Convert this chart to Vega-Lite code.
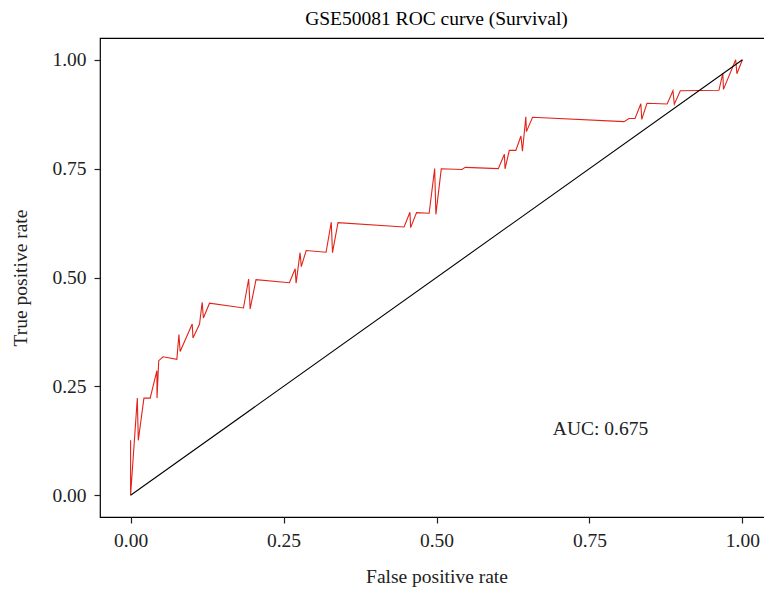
{
  "$schema": "https://vega.github.io/schema/vega-lite/v6.json",
  "autosize": "none",
  "padding": {"left": 100, "top": 38, "right": 0, "bottom": 76},
  "width": 673,
  "height": 479,
  "background": "white",
  "title": {"text": "GSE50081 ROC curve (Survival)", "font": "Liberation Serif", "fontSize": 19.5, "fontWeight": "normal", "color": "black", "anchor": "middle", "offset": 9},
  "config": {
    "view": {"stroke": "black", "strokeWidth": 1.2},
    "axis": {"labelFont": "Liberation Serif", "titleFont": "Liberation Serif", "labelFontSize": 19.5, "titleFontSize": 19.5, "titleFontWeight": "normal", "labelColor": "#222", "titleColor": "#222", "tickColor": "#222", "grid": false, "domain": false, "tickSize": 6, "tickWidth": 1.2}
  },
  "layer": [
    {
      "data": {"values": [
        {"i": 1, "fpr": 0, "tpr": 0.126},
        {"i": 2, "fpr": 0, "tpr": 0},
        {"i": 3, "fpr": 0.011, "tpr": 0.223},
        {"i": 4, "fpr": 0.0126, "tpr": 0.126},
        {"i": 5, "fpr": 0.0218, "tpr": 0.223},
        {"i": 6, "fpr": 0.032, "tpr": 0.223},
        {"i": 7, "fpr": 0.043, "tpr": 0.286},
        {"i": 8, "fpr": 0.0432, "tpr": 0.223},
        {"i": 9, "fpr": 0.046, "tpr": 0.309},
        {"i": 10, "fpr": 0.053, "tpr": 0.318},
        {"i": 11, "fpr": 0.0756, "tpr": 0.312},
        {"i": 12, "fpr": 0.079, "tpr": 0.369},
        {"i": 13, "fpr": 0.081, "tpr": 0.33},
        {"i": 14, "fpr": 0.1007, "tpr": 0.393},
        {"i": 15, "fpr": 0.102, "tpr": 0.361},
        {"i": 16, "fpr": 0.1127, "tpr": 0.393},
        {"i": 17, "fpr": 0.117, "tpr": 0.443},
        {"i": 18, "fpr": 0.119, "tpr": 0.407},
        {"i": 19, "fpr": 0.129, "tpr": 0.441},
        {"i": 20, "fpr": 0.1845, "tpr": 0.43},
        {"i": 21, "fpr": 0.193, "tpr": 0.4965},
        {"i": 22, "fpr": 0.1954, "tpr": 0.428},
        {"i": 23, "fpr": 0.205, "tpr": 0.495},
        {"i": 24, "fpr": 0.2596, "tpr": 0.488},
        {"i": 25, "fpr": 0.269, "tpr": 0.52},
        {"i": 26, "fpr": 0.2705, "tpr": 0.487},
        {"i": 27, "fpr": 0.277, "tpr": 0.557},
        {"i": 28, "fpr": 0.279, "tpr": 0.525},
        {"i": 29, "fpr": 0.287, "tpr": 0.562},
        {"i": 30, "fpr": 0.3195, "tpr": 0.558},
        {"i": 31, "fpr": 0.328, "tpr": 0.627},
        {"i": 32, "fpr": 0.33, "tpr": 0.557},
        {"i": 33, "fpr": 0.339, "tpr": 0.626},
        {"i": 34, "fpr": 0.447, "tpr": 0.616},
        {"i": 35, "fpr": 0.4566, "tpr": 0.65},
        {"i": 36, "fpr": 0.4577, "tpr": 0.6145},
        {"i": 37, "fpr": 0.4674, "tpr": 0.649},
        {"i": 38, "fpr": 0.488, "tpr": 0.6475},
        {"i": 39, "fpr": 0.497, "tpr": 0.75},
        {"i": 40, "fpr": 0.499, "tpr": 0.645},
        {"i": 41, "fpr": 0.5078, "tpr": 0.7496},
        {"i": 42, "fpr": 0.5415, "tpr": 0.748},
        {"i": 43, "fpr": 0.547, "tpr": 0.753},
        {"i": 44, "fpr": 0.601, "tpr": 0.75},
        {"i": 45, "fpr": 0.611, "tpr": 0.783},
        {"i": 46, "fpr": 0.612, "tpr": 0.7496},
        {"i": 47, "fpr": 0.619, "tpr": 0.792},
        {"i": 48, "fpr": 0.6297, "tpr": 0.792},
        {"i": 49, "fpr": 0.638, "tpr": 0.825},
        {"i": 50, "fpr": 0.6405, "tpr": 0.79},
        {"i": 51, "fpr": 0.646, "tpr": 0.869},
        {"i": 52, "fpr": 0.647, "tpr": 0.835},
        {"i": 53, "fpr": 0.657, "tpr": 0.868},
        {"i": 54, "fpr": 0.8065, "tpr": 0.858},
        {"i": 55, "fpr": 0.8147, "tpr": 0.865},
        {"i": 56, "fpr": 0.8245, "tpr": 0.865},
        {"i": 57, "fpr": 0.834, "tpr": 0.899},
        {"i": 58, "fpr": 0.8355, "tpr": 0.863},
        {"i": 59, "fpr": 0.844, "tpr": 0.9},
        {"i": 60, "fpr": 0.877, "tpr": 0.8986},
        {"i": 61, "fpr": 0.8865, "tpr": 0.929},
        {"i": 62, "fpr": 0.8887, "tpr": 0.898},
        {"i": 63, "fpr": 0.8985, "tpr": 0.929},
        {"i": 64, "fpr": 0.9616, "tpr": 0.93},
        {"i": 65, "fpr": 0.968, "tpr": 0.969},
        {"i": 66, "fpr": 0.969, "tpr": 0.932},
        {"i": 67, "fpr": 0.989, "tpr": 1.0},
        {"i": 68, "fpr": 0.991, "tpr": 0.968},
        {"i": 69, "fpr": 1.0, "tpr": 1.0}
      ]},
      "mark": {"type": "line", "color": "#e2231a", "strokeWidth": 1.1},
      "encoding": {
        "x": {"field": "fpr", "type": "quantitative", "scale": {"domain": [-0.05, 1.05], "nice": false, "zero": false}, "axis": {"values": [0, 0.25, 0.5, 0.75, 1], "format": ".2f", "title": "False positive rate", "labelPadding": 8, "titlePadding": 18}},
        "y": {"field": "tpr", "type": "quantitative", "scale": {"domain": [-0.05, 1.05], "nice": false, "zero": false}, "axis": {"values": [0, 0.25, 0.5, 0.75, 1], "format": ".2f", "title": "True positive rate", "labelPadding": 8, "titlePadding": 21}},
        "order": {"field": "i", "type": "quantitative"}
      }
    },
    {
      "data": {"values": [{"fpr": 0, "tpr": 0}, {"fpr": 1, "tpr": 1}]},
      "mark": {"type": "line", "color": "black", "strokeWidth": 1.1},
      "encoding": {
        "x": {"field": "fpr", "type": "quantitative"},
        "y": {"field": "tpr", "type": "quantitative"}
      }
    },
    {
      "data": {"values": [{"label": "AUC: 0.675"}]},
      "mark": {"type": "text", "font": "Liberation Serif", "fontSize": 19.5, "color": "#222", "align": "center", "baseline": "middle"},
      "encoding": {
        "x": {"datum": 0.768},
        "y": {"datum": 0.153},
        "text": {"field": "label"}
      }
    }
  ]
}
